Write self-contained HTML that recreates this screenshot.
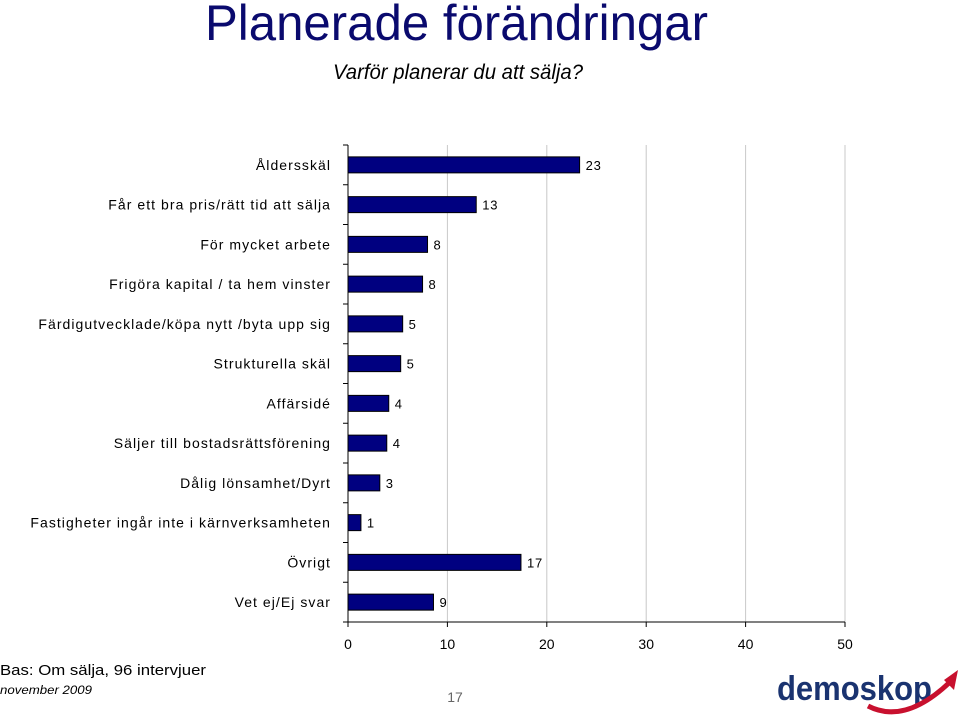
<!DOCTYPE html>
<html><head><meta charset="utf-8"><style>
body{margin:0;background:#fff;}
svg{display:block;font-family:"Liberation Sans",sans-serif;}
</style></head><body>
<svg id="chart" width="960" height="724" viewBox="0 0 960 724">
<text x="205" y="40" font-size="50" fill="#0a0a6e" textLength="503" lengthAdjust="spacingAndGlyphs">Planerade förändringar</text>
<text x="333" y="79" font-size="21" font-style="italic" fill="#000" textLength="250" lengthAdjust="spacingAndGlyphs">Varför planerar du att sälja?</text>
<g id="grid"></g><g id="bars"></g><g id="axes"></g>
<text x="0" y="675" font-size="15" fill="#000" textLength="206" lengthAdjust="spacingAndGlyphs">Bas: Om sälja, 96 intervjuer</text>
<text x="0" y="694" font-size="12" font-style="italic" fill="#000" textLength="92" lengthAdjust="spacingAndGlyphs">november 2009</text>
<text x="455" y="702" font-size="14" fill="#666" text-anchor="middle">17</text>
<g>
<text x="777" y="700" font-size="34" font-weight="bold" fill="#1a3370" textLength="155" lengthAdjust="spacingAndGlyphs">demoskop</text>
<path d="M868 706 Q905 725 950 682" stroke="#c8102e" stroke-width="5" fill="none"/>
<polygon points="944,680 958,670 954,690" fill="#c8102e"/>
</g>
</svg>
<script>
const categories=["Åldersskäl","Får ett bra pris/rätt tid att sälja","För mycket arbete","Frigöra kapital / ta hem vinster","Färdigutvecklade/köpa nytt /byta upp sig","Strukturella skäl","Affärsidé","Säljer till bostadsrättsförening","Dålig lönsamhet/Dyrt","Fastigheter ingår inte i kärnverksamheten","Övrigt","Vet ej/Ej svar"];
const values=[23.3,12.9,8.0,7.5,5.5,5.3,4.1,3.9,3.2,1.3,17.4,8.6];
const labels=["23","13","8","8","5","5","4","4","3","1","17","9"];
const ticks=[0,10,20,30,40,50];
const NS="http://www.w3.org/2000/svg";
const X0=348,X1=845,TOPY=145,BOTY=622;
const xs=v=>X0+(v-0)/(50-0)*(X1-X0);
const band=(BOTY-TOPY)/categories.length;
const yc=i=>TOPY+band*(i+0.5);
function mk(t,a,p){const e=document.createElementNS(NS,t);for(const k in a)e.setAttribute(k,a[k]);p.appendChild(e);return e;}
const grid=document.getElementById('grid'),bars=document.getElementById('bars'),axes=document.getElementById('axes');
ticks.forEach(t=>{
 if(t>0){const g=mk('line',{x1:xs(t),x2:xs(t),y1:TOPY,y2:BOTY,stroke:'#c8c8c8','stroke-width':1},grid);
 
 }
 const tk=mk('line',{x1:xs(t),x2:xs(t),y1:BOTY,y2:BOTY+5,stroke:'#000'},axes);
 
 
 const tl=mk('text',{x:xs(t),y:BOTY+27,'font-size':14,'text-anchor':'middle'},axes);tl.textContent=t;
 
 
});
categories.forEach((c,i)=>{
 const y=yc(i);
 const r=mk('rect',{x:X0,y:y-8,width:xs(values[i])-X0,height:16,fill:'#000080',stroke:'#000','stroke-width':1},bars);
 
 
 const v=mk('text',{x:xs(values[i])+6,y:y+5,'font-size':13,'letter-spacing':'0.8'},bars);v.textContent=labels[i];
 
 
 const l=mk('text',{x:331,y:y+5,'font-size':14,'text-anchor':'end','letter-spacing':'1.05'},axes);l.textContent=c;
 
 
});
for(let i=0;i<=categories.length;i++){
 const t=mk('line',{x1:X0-5,x2:X0,y1:TOPY+band*i,y2:TOPY+band*i,stroke:'#000'},axes);
 
 
}
const ya=mk('line',{x1:X0,x2:X0,y1:TOPY,y2:BOTY,stroke:'#000'},axes);


const xa=mk('line',{x1:X0,x2:X1,y1:BOTY,y2:BOTY,stroke:'#000'},axes);


</script>
</body></html>
